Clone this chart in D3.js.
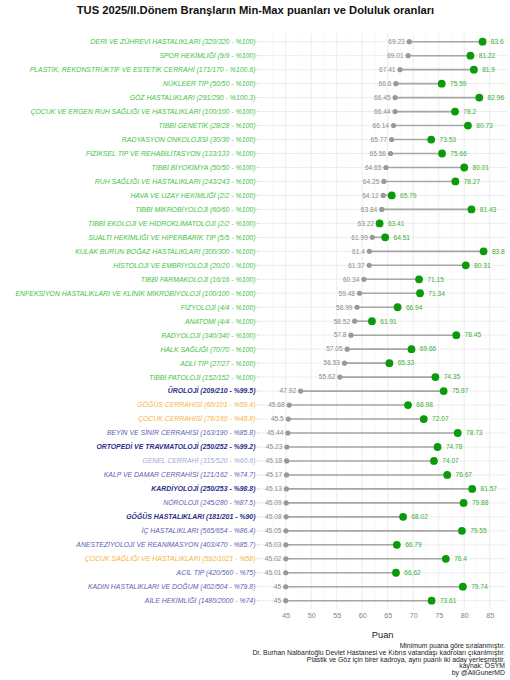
<!DOCTYPE html>
<html><head><meta charset="utf-8">
<script src="https://cdn.jsdelivr.net/npm/d3@7"></script>
<style>body{margin:0;background:#fff}svg{display:block;font-family:"Liberation Sans",Arial,sans-serif}</style>
</head><body><svg id="c" width="510" height="680"></svg>
<script>
const names = ["DERİ VE ZÜHREVİ HASTALIKLARI","SPOR HEKİMLİĞİ","PLASTİK, REKONSTRÜKTİF VE ESTETİK CERRAHİ","NÜKLEER TIP","GÖZ HASTALIKLARI","ÇOCUK VE ERGEN RUH SAĞLIĞI VE HASTALIKLARI","TIBBİ GENETİK","RADYASYON ONKOLOJİSİ","FİZİKSEL TIP VE REHABİLİTASYON","TIBBİ BİYOKİMYA","RUH SAĞLIĞI VE HASTALIKLARI","HAVA VE UZAY HEKİMLİĞİ","TIBBİ MİKROBİYOLOJİ","TIBBİ EKOLOJİ VE HİDROKLİMATOLOJİ","SUALTI HEKİMLİĞİ VE HİPERBARİK TIP","KULAK BURUN BOĞAZ HASTALIKLARI","HİSTOLOJİ VE EMBRİYOLOJİ","TIBBİ FARMAKOLOJİ","ENFEKSİYON HASTALIKLARI VE KLİNİK MİKROBİYOLOJİ","FİZYOLOJİ","ANATOMİ","RADYOLOJİ","HALK SAĞLIĞI","ADLİ TIP","TIBBİ PATOLOJİ","ÜROLOJİ","GÖĞÜS CERRAHİSİ","ÇOCUK CERRAHİSİ","BEYİN VE SİNİR CERRAHİSİ","ORTOPEDİ VE TRAVMATOLOJİ","GENEL CERRAHİ","KALP VE DAMAR CERRAHİSİ","KARDİYOLOJİ","NÖROLOJİ","GÖĞÜS HASTALIKLARI","İÇ HASTALIKLARI","ANESTEZİYOLOJİ VE REANİMASYON","ÇOCUK SAĞLIĞI VE HASTALIKLARI","ACİL TIP","KADIN HASTALIKLARI VE DOĞUM","AİLE HEKİMLİĞİ"];
const placed = [320,9,171,50,291,100,28,30,133,50,243,2,60,2,5,300,20,16,100,4,4,340,70,27,152,209,60,78,163,250,315,121,250,245,181,565,403,592,420,402,1480];
const quota = [320,9,170,50,290,100,28,30,133,50,243,2,60,2,5,300,20,16,100,4,4,340,70,27,152,210,101,160,190,252,520,162,253,280,201,654,470,1021,560,504,2000];
const pct = ["100","100","100.6","100","100.3","100","100","100","100","100","100","100","100","100","100","100","100","100","100","100","100","100","100","100","100","99.5","59.4","48.8","85.8","99.2","60.6","74.7","98.8","87.5","90","86.4","85.7","58","75","79.8","74"];
const minScores = [69.23,69.01,67.41,66.6,66.45,66.44,66.14,65.77,65.56,64.65,64.25,64.12,63.84,63.22,61.99,61.4,61.37,60.34,59.48,58.99,58.52,57.8,57.05,56.53,55.62,47.92,45.68,45.5,45.44,45.23,45.18,45.17,45.13,45.09,45.08,45.05,45.03,45.02,45.01,45,45];
const maxScores = [83.6,81.22,81.9,75.59,82.96,78.2,80.73,73.53,75.66,80.01,78.27,65.79,81.43,63.41,64.51,83.8,80.31,71.15,71.34,66.94,61.91,78.45,69.66,65.33,74.35,75.97,68.98,72.07,78.73,74.78,74.07,76.67,81.57,79.88,68.02,79.55,66.79,76.4,66.62,79.74,73.61];
const xTicks = [45,50,55,60,65,70,75,80,85];
const xMinor = [42.5,47.5,52.5,57.5,62.5,67.5,72.5,77.5,82.5,87.5];
const title = "TUS 2025/II.Dönem Branşların Min-Max puanları ve Doluluk oranları";
const xTitle = "Puan";
const caption = ["Minimum puana göre sıralanmıştır.","Dr. Burhan Nalbantoğlu Devlet Hastanesi ve Kıbrıs vatandaşı kadroları çıkarılmıştır.","Plastik ve Göz için birer kadroya, aynı puanlı iki aday yerleşmiştir.","kaynak: ÖSYM","by @AliGunerMD"];

const rows = names.map((n,i)=>({label:`${n} (${placed[i]}/${quota[i]} - %${pct[i]})`, p:+pct[i], mn:minScores[i], mx:maxScores[i]}));

const svg = d3.select("#c");
const x = d3.scaleLinear().domain([45,85]).range([285.7,489.7]);
const y = d3.scalePoint().domain(rows.map(d=>d.label)).range([41.7,600.7]);
const panelL = 260, panelR = 507, panelT = 33.3, panelB = 609;

function col(p){
  if(p>=100) return "#44c244";
  if(p>=90) return "#2b2b88";
  if(p>=70) return "#6060b4";
  if(p>=60) return "#a2a9d4";
  return "#f6b342";
}

// grid
const g = svg.append("g");
g.selectAll(".minor").data(xMinor.filter(v=>x(v)>panelL && x(v)<panelR)).join("line")
  .attr("x1",d=>x(d)).attr("x2",d=>x(d)).attr("y1",panelT).attr("y2",panelB)
  .attr("stroke","#f4f4f4").attr("stroke-width",0.5);
g.selectAll(".major").data(xTicks).join("line")
  .attr("x1",d=>x(d)).attr("x2",d=>x(d)).attr("y1",panelT).attr("y2",panelB)
  .attr("stroke","#ebebeb").attr("stroke-width",0.9);
g.selectAll(".hg").data(rows).join("line")
  .attr("x1",panelL).attr("x2",panelR).attr("y1",d=>y(d.label)).attr("y2",d=>y(d.label))
  .attr("stroke","#ebebeb").attr("stroke-width",0.9);

// y axis labels
const ya = svg.append("g");
ya.selectAll("line").data(rows).join("line")
  .attr("x1",256.8).attr("x2",259.5).attr("y1",d=>y(d.label)).attr("y2",d=>y(d.label))
  .attr("stroke","#c8c8c8").attr("stroke-width",0.8);
ya.selectAll("text").data(rows).join("text")
  .attr("x",255.5).attr("y",d=>y(d.label)).attr("dy","0.35em")
  .attr("text-anchor","end").attr("font-size",6.9).attr("font-style","italic")
  .attr("font-weight",d=>(d.p>=90&&d.p<100)?"bold":"normal")
  .attr("fill",d=>col(d.p)).text(d=>d.label);

// segments
svg.append("g").selectAll("line").data(rows).join("line")
  .attr("x1",d=>x(d.mn)).attr("x2",d=>x(d.mx)).attr("y1",d=>y(d.label)).attr("y2",d=>y(d.label))
  .attr("stroke","#a6a6a6").attr("stroke-width",1.6);
svg.append("g").selectAll("circle").data(rows).join("circle")
  .attr("cx",d=>x(d.mn)).attr("cy",d=>y(d.label)).attr("r",2.6).attr("fill","#999");
svg.append("g").selectAll("circle").data(rows).join("circle")
  .attr("cx",d=>x(d.mx)).attr("cy",d=>y(d.label)).attr("r",3.9).attr("fill","#0a9a0a");
svg.append("g").selectAll("text").data(rows).join("text")
  .attr("x",d=>x(d.mn)-4.5).attr("y",d=>y(d.label)).attr("dy","0.35em")
  .attr("text-anchor","end").attr("font-size",6.6).attr("fill","#8a8a8a").text(d=>d.mn);
svg.append("g").selectAll("text").data(rows).join("text")
  .attr("x",d=>x(d.mx)+8.3).attr("y",d=>y(d.label)).attr("dy","0.35em")
  .attr("text-anchor","start").attr("font-size",6.6).attr("fill","#3aae3a").text(d=>d.mx);

// x axis
const xa = svg.append("g").attr("transform",`translate(0,${panelB})`)
  .call(d3.axisBottom(x).tickValues(xTicks).tickSize(0).tickPadding(3.5));
xa.select(".domain").remove();
xa.selectAll("text").attr("font-size",7.2).attr("fill","#7f7f7f").attr("font-family","Liberation Sans, Arial, sans-serif");

svg.append("text").attr("x",382.7).attr("y",637.5).attr("text-anchor","middle")
  .attr("font-size",9.3).attr("fill","#222").text(xTitle);

svg.append("text").attr("x",255.5).attr("y",14).attr("text-anchor","middle")
  .attr("font-size",11.2).attr("font-weight","bold").attr("fill","#111").text(title);

svg.append("g").selectAll("text").data(caption).join("text")
  .attr("x",505).attr("y",(d,i)=>648.3+i*6.6).attr("text-anchor","end")
  .attr("font-size",6.85).attr("fill","#222").text(d=>d);
</script></body></html>
